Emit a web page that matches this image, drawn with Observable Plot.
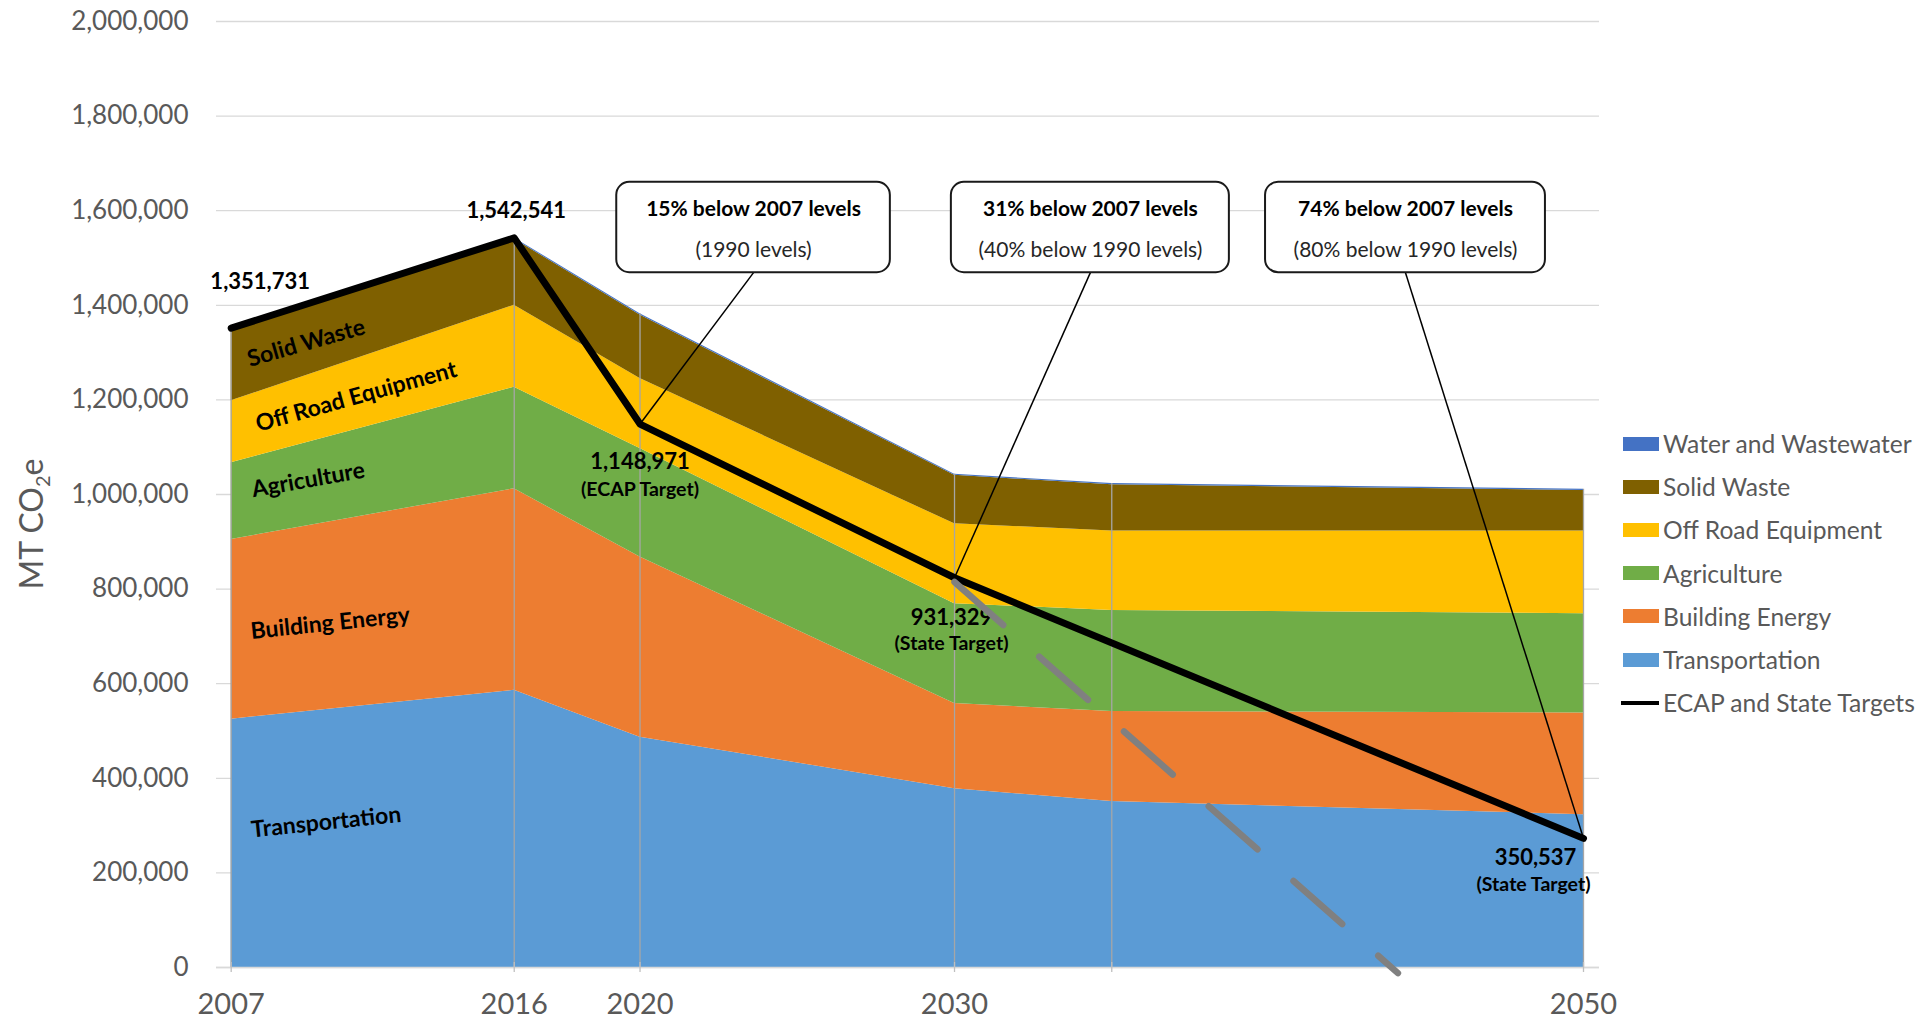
<!DOCTYPE html>
<html>
<head>
<meta charset="utf-8">
<script src="https://cdn.jsdelivr.net/npm/d3@7"></script>
<script src="https://cdn.jsdelivr.net/npm/@observablehq/plot@0.6"></script>
<style>
  html, body { margin: 0; padding: 0; background: #fff; }
  #wrap { display: flex; flex-direction: row; width: 1924px; height: 1018px; font-family: Lato, "Open Sans", sans-serif; }
  #legend { padding-top: 422px; }
  .item { display: flex; align-items: center; height: 43.2px; }
  .sw { margin-left: 13px; width: 36px; height: 14px; }
  .ln { margin-left: 11px; width: 38px; height: 4px; background: #000; }
  .lab { margin-left: 4px; font-size: 24.6px; color: #595959; white-space: nowrap; }
</style>
</head>
<body>
<div id="wrap"><div id="chart"></div><div id="legend"></div></div>
<script>
// ---- data ----
const years = [2007, 2016, 2020, 2030, 2035, 2050];
const sectors = ["Transportation", "Building Energy", "Agriculture", "Off Road Equipment", "Solid Waste", "Water and Wastewater"];
const sectorColors = ["#5B9BD5", "#ED7D31", "#70AD47", "#FFC000", "#7F6000", "#4472C4"];
const transportation   = [525000, 586000, 487000, 378000, 351000, 323000];
const buildingEnergy   = [380000, 426000, 381000, 180000, 190000, 215000];
const agriculture      = [162000, 215000, 229000, 211000, 214000, 210000];
const offRoadEquipment = [131000, 173000, 148000, 169000, 168000, 175000];
const solidWaste       = [151000, 140000, 134500, 102500, 97500, 85500];
const waterWastewater  = [2700, 2500, 2500, 2500, 2500, 2500];

const targetName = "ECAP and State Targets";
const targetYears  = [2007, 2016, 2020, 2030, 2050];
const targetValues = [1351731, 1542541, 1148971, 824000, 273000];
const targetLabels = ["1,351,731", "1,542,541", "1,148,971", "931,329", "350,537"];
const targetNotes  = ["", "", "(ECAP Target)", "(State Target)", "(State Target)"];

const trendYears  = [2030, 2044.1];
const trendValues = [815000, -12000];

const calloutTitles = ["15% below 2007 levels", "31% below 2007 levels", "74% below 2007 levels"];
const calloutNotes  = ["(1990 levels)", "(40% below 1990 levels)", "(80% below 1990 levels)"];
const calloutTargetYears = [2020, 2030, 2050];

const xTickYears = [2007, 2016, 2020, 2030, 2050];
const yTicks = [0, 200000, 400000, 600000, 800000, 1000000, 1200000, 1400000, 1600000, 1800000, 2000000];
const yTitle = ["MT CO", "2", "e"];

// ---- derived tables ----
const series = [transportation, buildingEnergy, agriculture, offRoadEquipment, solidWaste, waterWastewater];
const table = years.flatMap((yr, i) => sectors.map((s, k) => ({year: yr, sector: s, value: series[k][i]})));
const totals = years.map((yr, i) => ({year: yr, total: series.reduce((a, s) => a + s[i], 0)}));
const target = targetYears.map((yr, i) => ({year: yr, value: targetValues[i], label: targetLabels[i], note: targetNotes[i]}));
const trend = trendYears.map((yr, i) => ({year: yr, value: trendValues[i]}));

// annotation layout (box extents in data units)
const boxTop = 1660000, boxBottom = 1469000;
const boxCenters = [2023.61, 2034.32, 2044.34];
const boxHalf = [4.35, 4.42, 4.45];
const callouts = calloutTitles.map((t, i) => {
  const ty = calloutTargetYears[i];
  return {title: t, note: calloutNotes[i], cx: boxCenters[i], x1: boxCenters[i] - boxHalf[i], x2: boxCenters[i] + boxHalf[i],
          ty, tv: targetValues[targetYears.indexOf(ty)]};
});

// sector label anchors: middle of each band at the first year
const bandMid = sectors.map((s, k) => {
  let below = 0; for (let j = 0; j < k; j++) below += series[j][0];
  return {sector: s, year: years[0], value: below + series[k][0] / 2};
});
const sectorLabelStyle = {
  "Transportation":     {dx: 95, dy: -21, rotate: -6},
  "Building Energy":    {dx: 99, dy: -6, rotate: -6},
  "Agriculture":        {dx: 77, dy: -21, rotate: -10},
  "Off Road Equipment": {dx: 125, dy: -35, rotate: -15.5},
  "Solid Waste":        {dx: 75, dy: -22, rotate: -16}
};
const targetLabelStyle = [
  {dx: 29, dy: -46}, {dx: 2, dy: -27}, {dx: 0, dy: 38, ndy: 65.5}, {dx: -3, dy: 40, ndy: 66}, {dx: -48, dy: 20, ndy: 46, ndx: -50}
];

const font = "Lato, 'Open Sans', sans-serif";

const marks = [
  Plot.gridY(yTicks, {stroke: "#D9D9D9", strokeOpacity: 1, strokeWidth: 1.3}),
  Plot.areaY(table, {x: "year", y: "value", fill: "sector", z: "sector", order: sectors, curve: "linear"}),
  Plot.ruleX(totals, {x: "year", y1: 0, y2: "total", stroke: "#A6A6A6", strokeWidth: 1.3}),
  Plot.ruleY([0], {stroke: "#D9D9D9", strokeWidth: 1.5}),
  Plot.ruleX(years, {x: d => d, y1: 0, y2: 0, insetTop: -5, insetBottom: -5, stroke: "#BFBFBF", strokeWidth: 1.3}),
  Plot.axisY(yTicks, {tickFormat: d3.format(","), tickSize: 0, tickPadding: 28, fontSize: 26, color: "#595959", label: null}),
  Plot.axisX(xTickYears, {tickFormat: d => String(d), tickSize: 0, tickPadding: 26, fontSize: 29, color: "#595959", label: null}),
  ...bandMid.filter(d => sectorLabelStyle[d.sector]).map(d => Plot.text([d], {
    x: "year", y: "value", text: "sector", fontSize: 23, fontWeight: "bold", fill: "black",
    textAnchor: "middle", ...sectorLabelStyle[d.sector]
  })),
  Plot.line(target, {x: "year", y: "value", stroke: "black", strokeWidth: 7, strokeLinejoin: "round", strokeLinecap: "round"}),
  ...target.map((d, i) => Plot.text([d], {x: "year", y: "value", text: "label", fontSize: 22, fontWeight: "bold", fill: "black",
      dx: targetLabelStyle[i].dx, dy: targetLabelStyle[i].dy})),
  ...target.filter(d => d.note).map(d => {
    const st = targetLabelStyle[target.indexOf(d)];
    return Plot.text([d], {x: "year", y: "value", text: "note", fontSize: 19.5, fontWeight: "bold", fill: "black",
      dx: st.ndx ?? st.dx, dy: st.ndy});
  }),
  Plot.link(callouts, {x1: "cx", y1: () => boxBottom, x2: "ty", y2: "tv", stroke: "black", strokeWidth: 1.5}),
  Plot.rect(callouts, {x1: "x1", x2: "x2", y1: () => boxBottom, y2: () => boxTop, fill: "white", stroke: "#1a1a1a", strokeWidth: 2, rx: 13}),
  Plot.text(callouts, {x: "cx", y: () => boxTop, text: "title", dy: 27, fontSize: 21, fontWeight: "bold", fill: "black"}),
  Plot.text(callouts, {x: "cx", y: () => boxTop, text: "note", dy: 68, fontSize: 21, fill: "#262626"}),
  Plot.line(trend, {x: "year", y: "value", stroke: "#808080", strokeWidth: 6.5, strokeDasharray: "65,48"})
];

const chart = Plot.plot({
  width: 1610, height: 1018,
  marginLeft: 216, marginRight: 11, marginTop: 21, marginBottom: 51,
  x: {type: "linear", domain: [2006.533, 2050.509], axis: null},
  y: {domain: [0, 2000000], axis: null},
  color: {domain: sectors, range: sectorColors},
  style: {fontFamily: font, background: "white", overflow: "visible"},
  marks
});
document.getElementById("chart").appendChild(chart);

// y axis title with subscript
const t = d3.select(chart).append("text")
  .attr("transform", "translate(43,524) rotate(-90)")
  .attr("text-anchor", "middle")
  .attr("font-family", font).attr("font-size", 32).attr("fill", "#595959");
t.append("tspan").text(yTitle[0]);
t.append("tspan").attr("font-size", 20).attr("dy", 7).text(yTitle[1]);
t.append("tspan").attr("dy", -7).text(yTitle[2]);

// legend
const legend = d3.select("#legend");
sectors.map((s, k) => ({s, c: sectorColors[k]})).reverse().forEach(d => {
  const it = legend.append("div").attr("class", "item");
  it.append("div").attr("class", "sw").style("background", d.c);
  it.append("div").attr("class", "lab").text(d.s);
});
const it = legend.append("div").attr("class", "item");
it.append("div").attr("class", "ln");
it.append("div").attr("class", "lab").text(targetName);
</script>
</body>
</html>
